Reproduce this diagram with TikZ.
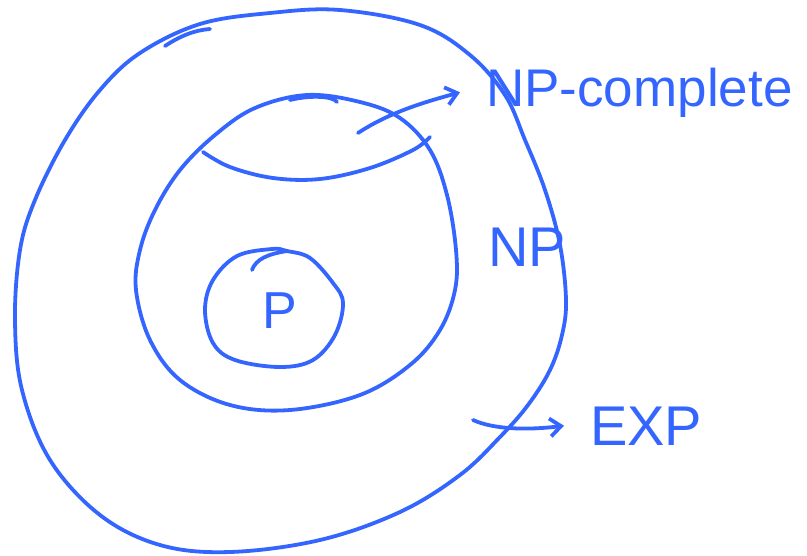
\documentclass[tikz,border=0pt]{standalone}
\usepackage{fontspec}
\setmainfont{Liberation Sans}
\usetikzlibrary{arrows.meta}
\definecolor{pen}{RGB}{52,102,255}

\tikzset{
  stroke/.style={draw=pen, line width=3.8pt, line cap=round, line join=round},
  lbl/.style={text=pen, inner sep=0pt, anchor=base west},
  hook/.style={-{Straight Barb[length=11pt,width=18pt,line width=3.8pt]}},
}

\begin{document}
\begin{tikzpicture}[x=1pt,y=-1pt]
\useasboundingbox (0,0) rectangle (807,555);

% EXP region
\draw[stroke] plot[smooth cycle, tension=0.6] coordinates {
  (340,10) (420,25) (470,55) (505,95) (525,140) (545,190) (560,245)
  (566,300) (562,335) (550,370) (528,405) (500,437) (460,475) (400,512)
  (320,540) (230,552) (160,545) (100,515) (50,460) (22,390) (15,320)
  (20,250) (35,200) (65,140) (100,90) (140,53) (200,24) (270,13)};
\draw[stroke] (165,46) .. controls (180,36) and (195,30) .. (210,29);

% NP region
\draw[stroke] plot[smooth cycle, tension=0.6] coordinates {
  (307,95) (360,102) (400,118) (430,150) (447,195) (456,250) (455,290)
  (440,330) (410,365) (360,395) (290,410) (230,405) (180,380) (150,340)
  (136,290) (140,250) (155,210) (180,170) (215,135) (255,108)};
\draw[stroke] (290,100) .. controls (310,95) and (333,96) .. (337,102);

% NP-complete cap
\draw[stroke] plot[smooth, tension=0.6] coordinates {
  (203,152) (230,167) (273,178) (320,179) (370,168) (413,150) (430,137)};

% P region
\draw[stroke] plot[smooth cycle, tension=0.6] coordinates {
  (272,249) (237,256) (213,280) (205,310) (213,343) (235,360) (280,367)
  (313,360) (335,335) (343,303) (333,283) (310,258) (287,251)};
\draw[stroke] (252,270) .. controls (256,259) and (268,254) .. (287,251);

% labels
\node[lbl, font=\fontsize{52}{60}\selectfont] (p) at (262,328) {P};
\node[lbl, font=\fontsize{56}{64}\selectfont] (np) at (488,266) {NP};
\node[lbl, font=\fontsize{56}{64}\selectfont] (exp) at (590,445) {EXP};
\node[lbl, font=\fontsize{53}{60}\selectfont] (npc) at (486,106) {NP-complete};

% pointers
\coordinate (npcfrom) at (358,133);
\coordinate (expfrom) at (473,420);
\draw[stroke, hook] (npcfrom) .. controls (390,112) and (425,102) .. ([xshift=-26pt]npc.west);
\draw[stroke, hook] (expfrom) .. controls (495,430) and (530,430) .. ([xshift=-26pt]exp.west);
\end{tikzpicture}
\end{document}
